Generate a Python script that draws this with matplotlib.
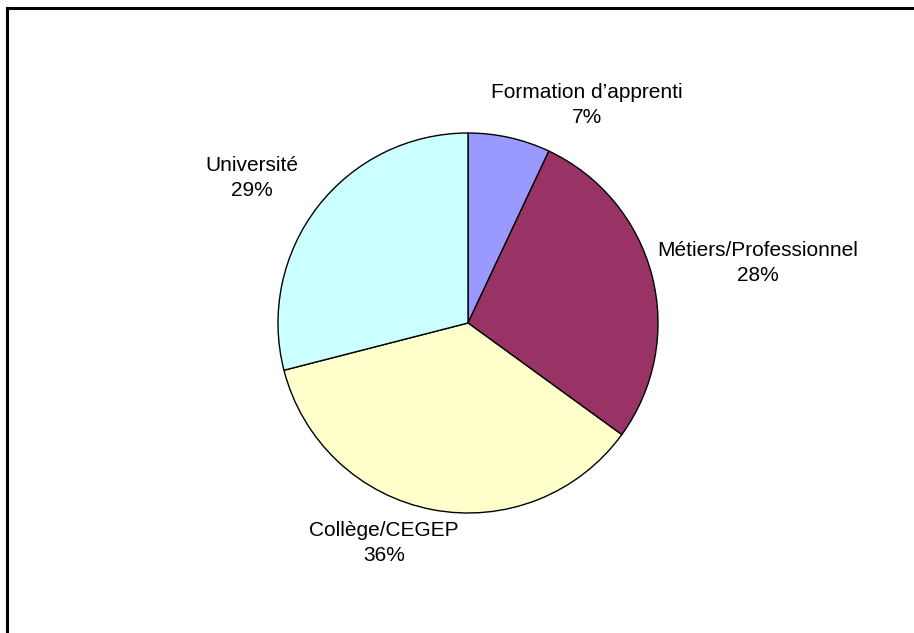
import matplotlib.pyplot as plt

# share of graduates by type of program
labels = ['Formation d\u2019apprenti', 'M\u00e9tiers/Professionnel', 'Coll\u00e8ge/CEGEP', 'Universit\u00e9']
shares = [7, 28, 36, 29]
colors = ['#9999FF', '#993366', '#FFFFCC', '#CCFFFF']

# where each label sits, in pie units (radius = 1)
label_pos = [(0.626, 1.147), (1.526, 0.316), (-0.442, -1.158), (-1.137, 0.763)]

plt.rcParams['font.family'] = ['Liberation Sans', 'DejaVu Sans']

fig = plt.figure(figsize=(9.14, 6.33), dpi=100)
W, H = 914, 633
cx, cy, r = 468, 323, 190
ax = fig.add_axes([(cx - r) / W, (H - cy - r) / H, 2 * r / W, 2 * r / H])

ax.pie(shares, colors=colors, startangle=90, counterclock=False, radius=1,
       wedgeprops={'edgecolor': 'black', 'linewidth': 1.0})
ax.set_xlim(-1, 1)
ax.set_ylim(-1, 1)
ax.set_aspect('equal')
ax.axis('off')

for lab, val, (x, y) in zip(labels, shares, label_pos):
    ax.text(x, y, f'{lab}\n{val}%', ha='center', va='center', fontsize=15,
            linespacing=1.42, clip_on=False)

# frame lines on top and left
fig.add_artist(plt.Line2D([7 / W, 1], [1 - 8 / H, 1 - 8 / H], color='black', lw=2.2,
                          transform=fig.transFigure))
fig.add_artist(plt.Line2D([7 / W, 7 / W], [0, 1 - 8 / H], color='black', lw=2.2,
                          transform=fig.transFigure))

fig.savefig('out.png', dpi=100)
